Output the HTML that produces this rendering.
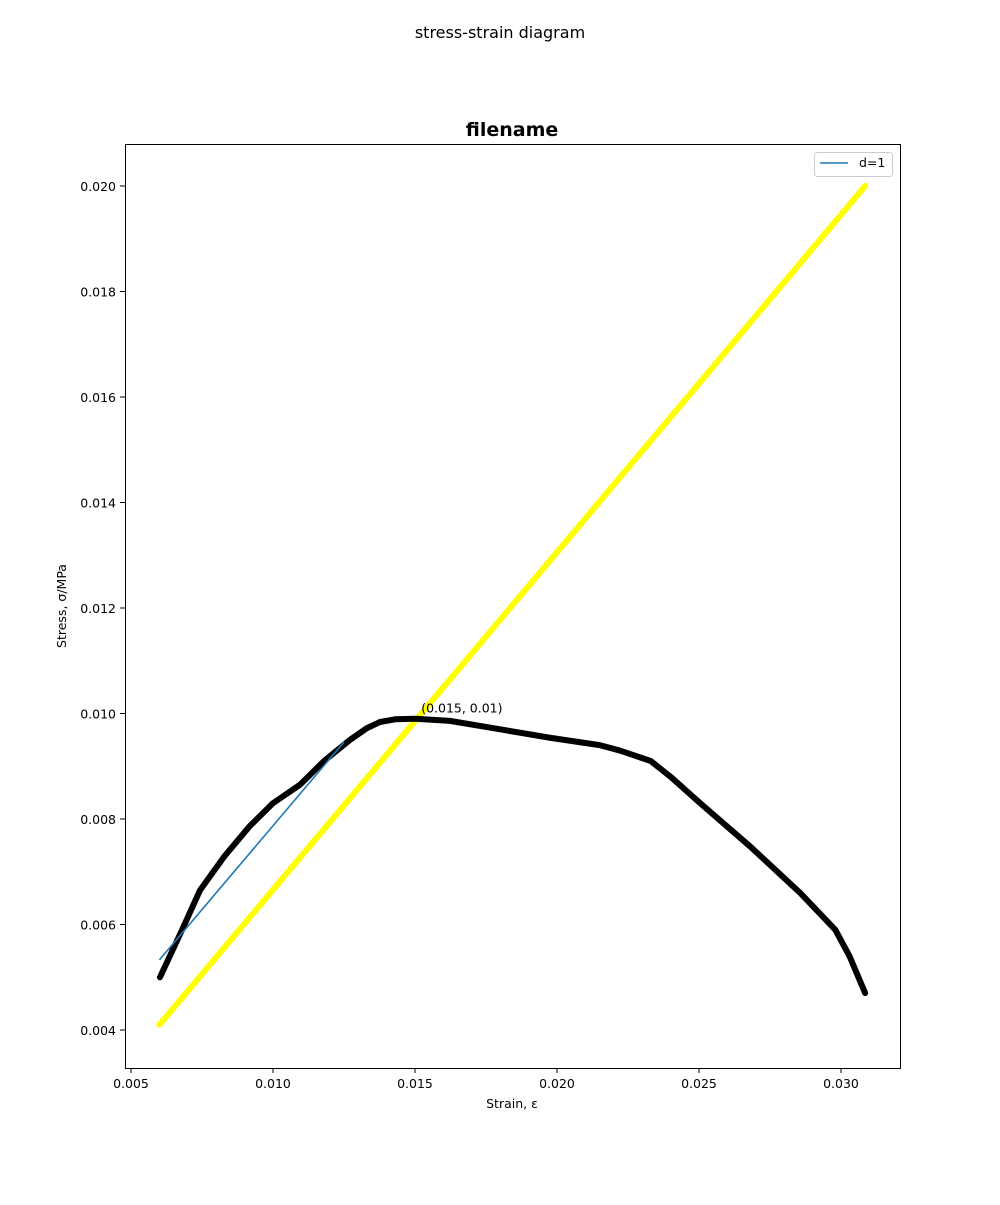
<!DOCTYPE html>
<html><head><meta charset="utf-8"><style>
body{margin:0;background:#fff;font-family:"Liberation Sans","DejaVu Sans",sans-serif}
svg text{font-family:"DejaVu Sans","Liberation Sans",sans-serif}
</style></head><body>
<svg id="c" width="1000" height="1200" xmlns="http://www.w3.org/2000/svg">
<text x="500" y="38" text-anchor="middle" font-size="16">stress-strain diagram</text>
<text x="512" y="136" text-anchor="middle" font-size="19" font-weight="bold">filename</text>
<g id="marks"></g>
<rect x="125.5" y="144.5" width="775" height="924" fill="none" stroke="#000" stroke-width="1"/>
<g id="ticks"></g>
<text x="512" y="1108" text-anchor="middle" font-size="12.5">Strain, ε</text>
<text transform="translate(66,606) rotate(-90)" text-anchor="middle" font-size="12.5">Stress, σ/MPa</text>
<g>
<rect x="814.5" y="152.5" width="78" height="24" rx="3" fill="#fff" stroke="#ccc"/>
<line x1="820" y1="163" x2="848" y2="163" stroke="#1f77b4" stroke-width="1.6"/>
<text x="859" y="167" font-size="12.5">d=1</text>
</g>
</svg>
<script>
const strain=[0.00602,0.0068,0.00743,0.0083,0.00919,0.01,0.01095,0.0118,0.01271,0.0133,0.01377,0.0143,0.015,0.01623,0.0180,0.01975,0.0215,0.0222,0.0233,0.0240,0.02504,0.0268,0.02856,0.0298,0.0303,0.03085];
const stress=[0.0050,0.0059,0.00665,0.0073,0.00787,0.0083,0.00865,0.0091,0.0095,0.00972,0.00984,0.00989,0.0099,0.00986,0.0097,0.00954,0.0094,0.0093,0.0091,0.0088,0.0083,0.00748,0.0066,0.0059,0.0054,0.0047];
const yieldLine=[[0.006,0.0041],[0.03085,0.020]];
const fitLine=[[0.006,0.00533],[0.0125,0.00946]];
const xTicks=[0.005,0.010,0.015,0.020,0.025,0.030];
const yTicks=[0.004,0.006,0.008,0.010,0.012,0.014,0.016,0.018,0.020];
const ann={x:0.0155,y:0.0100,label:"(0.015, 0.01)"};
const X=v=>131+(v-0.005)*28400;
const Y=v=>1030-(v-0.004)*52750;
const NS="http://www.w3.org/2000/svg";
const marks=document.getElementById('marks'),ticks=document.getElementById('ticks');
function mk(tag,attrs,parent){const e=document.createElementNS(NS,tag);for(const k in attrs)e.setAttribute(k,attrs[k]);parent.appendChild(e);return e;}
let p=mk('polyline',{points:yieldLine.map(d=>X(d[0])+','+Y(d[1])).join(' '),fill:'none',stroke:'#ffff00','stroke-width':6,'stroke-linecap':'round'},marks);


p=mk('polyline',{points:strain.map((s,i)=>X(s)+','+Y(stress[i])).join(' '),fill:'none',stroke:'#000','stroke-width':6,'stroke-linejoin':'round','stroke-linecap':'round'},marks);


p=mk('polyline',{points:fitLine.map(d=>X(d[0])+','+Y(d[1])).join(' '),fill:'none',stroke:'#1f77b4','stroke-width':1.6},marks);


const a=mk('text',{x:X(ann.x)-8,y:Y(ann.y)-1,'font-size':12.5},marks);a.textContent=ann.label;


xTicks.forEach(v=>{const x=X(v);
 const l=mk('line',{x1:x,y1:1068,x2:x,y2:1073,stroke:'#000'},ticks);
 
 
 const t=mk('text',{x:x,y:1088,'text-anchor':'middle','font-size':12.5},ticks);t.textContent=v.toFixed(3);
 
 });
yTicks.forEach(v=>{const y=Y(v);
 const l=mk('line',{x1:120,y1:y,x2:125,y2:y,stroke:'#000'},ticks);
 
 
 const t=mk('text',{x:116,y:y+5,'text-anchor':'end','font-size':12.5},ticks);t.textContent=v.toFixed(3);
 
 });
</script>
</body></html>
